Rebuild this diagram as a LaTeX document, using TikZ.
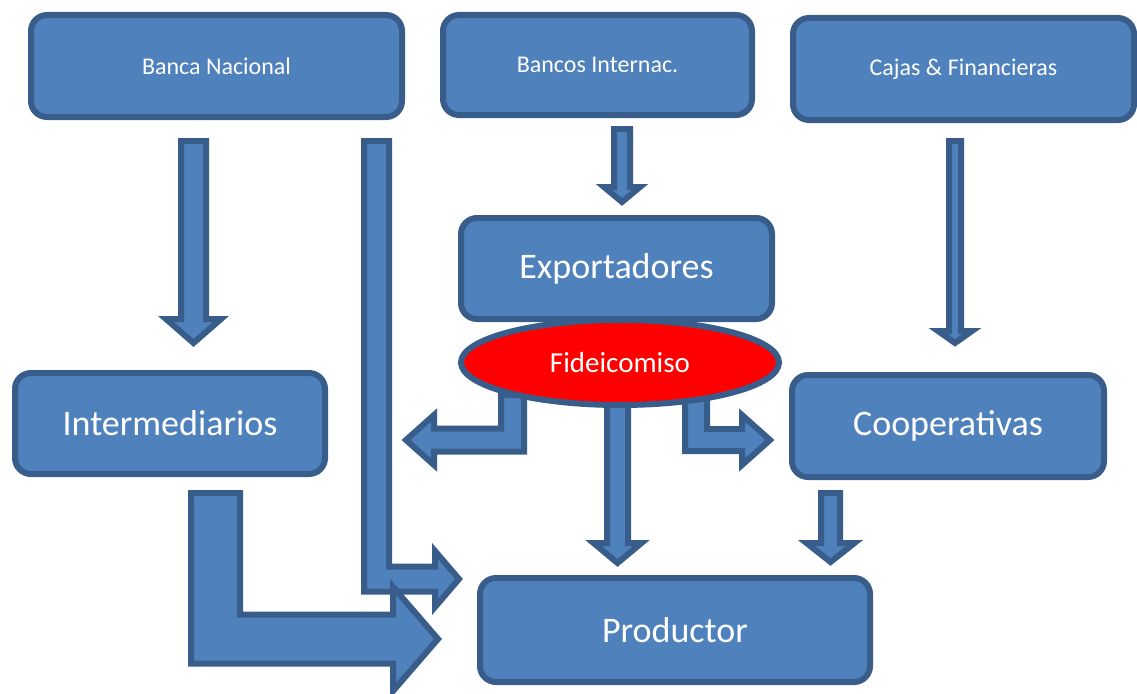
\documentclass[tikz,border=0pt]{standalone}
\usepackage{fontspec}
\setmainfont{Carlito}
\usetikzlibrary{calc,shapes.geometric,backgrounds}
\definecolor{boxfill}{HTML}{4F81BD}
\definecolor{boxline}{HTML}{385D8A}
% straight block arrow: start (top centre), end (tip), shaft half-width, head half-width, head length
\newcommand\vblock[5]{\draw[blockarrow] let \p1=(#1), \p2=(#2) in
  ({\x1-#3},\y1) -- ({\x1+#3},\y1) -- ({\x1+#3},{\y2+#5}) -- ({\x1+#4},{\y2+#5})
  -- (\x1,\y2) -- ({\x1-#4},{\y2+#5}) -- ({\x1-#3},{\y2+#5}) -- cycle;}
% bent block arrow: start (top of vertical shaft), tip, half-width, head half-width, head length, direction (+1 right, -1 left)
\newcommand\lblock[6]{\draw[blockarrow] let \p1=(#1), \p2=(#2) in
  ({\x1-(#6)*#3},\y1) -- ({\x1-(#6)*#3},{\y2-#3}) -- ({\x2-(#6)*#5},{\y2-#3})
  -- ({\x2-(#6)*#5},{\y2-#4}) -- (\x2,\y2) -- ({\x2-(#6)*#5},{\y2+#4})
  -- ({\x2-(#6)*#5},{\y2+#3}) -- ({\x1+(#6)*#3},{\y2+#3}) -- ({\x1+(#6)*#3},\y1) -- cycle;}
\begin{document}
\begin{tikzpicture}[x=1pt,y=-1pt,
  box/.style={draw=boxline,fill=boxfill,line width=6pt,rounded corners=16pt,text=white,inner sep=0pt,align=center},
  small/.style={font=\fontsize{24}{28}\selectfont},
  big/.style={font=\fontsize{36}{42}\selectfont},
  blockarrow/.style={draw=boxline,fill=boxfill,line width=6pt,line join=miter}]
\useasboundingbox (0,0) rectangle (1137,693);
\node[box,small,minimum width=371pt,minimum height=102pt] (banca) at (216.5,66) {Banca Nacional};
\node[box,small,minimum width=309pt,minimum height=100pt] (bancos) at (597.5,65) {Bancos Internac.};
\node[box,small,minimum width=341pt,minimum height=102pt] (cajas) at (963.5,69) {Cajas \& Financieras};
\node[box,big,minimum width=311pt,minimum height=101pt] (expo) at (616.5,268.5) {Exportadores};
\node[box,big,minimum width=310pt,minimum height=101pt] (inter) at (170,423.5) {Intermediarios};
\node[box,big,minimum width=312pt,minimum height=102pt] (coop) at (948,426) {Cooperativas};
\node[box,big,minimum width=390pt,minimum height=104pt] (prod) at (675,630) {Productor};
\node[draw=boxline,fill=red,ellipse,line width=6pt,minimum width=318pt,minimum height=85pt,inner sep=0pt,
  text=white,font=\fontsize{29}{34}\selectfont] (fide) at (620,362.5) {Fideicomiso};
\begin{scope}[on background layer]
\vblock{$(banca.south)+(-23,21)$}{$(inter.north)+(23.5,-27)$}{12.5pt}{27.5pt}{24pt}
\vblock{$(bancos.south)+(24.5,11)$}{$(expo.north)+(5.5,-13)$}{8pt}{18pt}{15pt}
\vblock{$(cajas.south)+(-8.5,18)$}{$(coop.north)+(7,-29)$}{6pt}{17pt}{12pt}
\vblock{$(coop.south)+(-117.5,13)$}{$(prod.north)+(155.5,-13)$}{9.5pt}{24pt}{19pt}
\vblock{$(fide.south)+(-2.5,-10)$}{$(prod.north)+(-57.5,-12)$}{10.5pt}{24pt}{20pt}
\lblock{$(banca.south)+(160,21)$}{$(prod.west)+(-18,-51)$}{12.5pt}{28pt}{24pt}{1}
\lblock{$(inter.south)+(45.5,16)$}{$(prod.west)+(-39,9)$}{24.5pt}{52pt}{45pt}{1}
\lblock{$(fide.center)+(-107.5,32.5)$}{$(inter.east)+(78,16.5)$}{11.5pt}{25pt}{28pt}{-1}
\lblock{$(fide.center)+(76,32.5)$}{$(coop.west)+(-19,14)$}{11pt}{25pt}{28pt}{1}
\end{scope}
\end{tikzpicture}
\end{document}
